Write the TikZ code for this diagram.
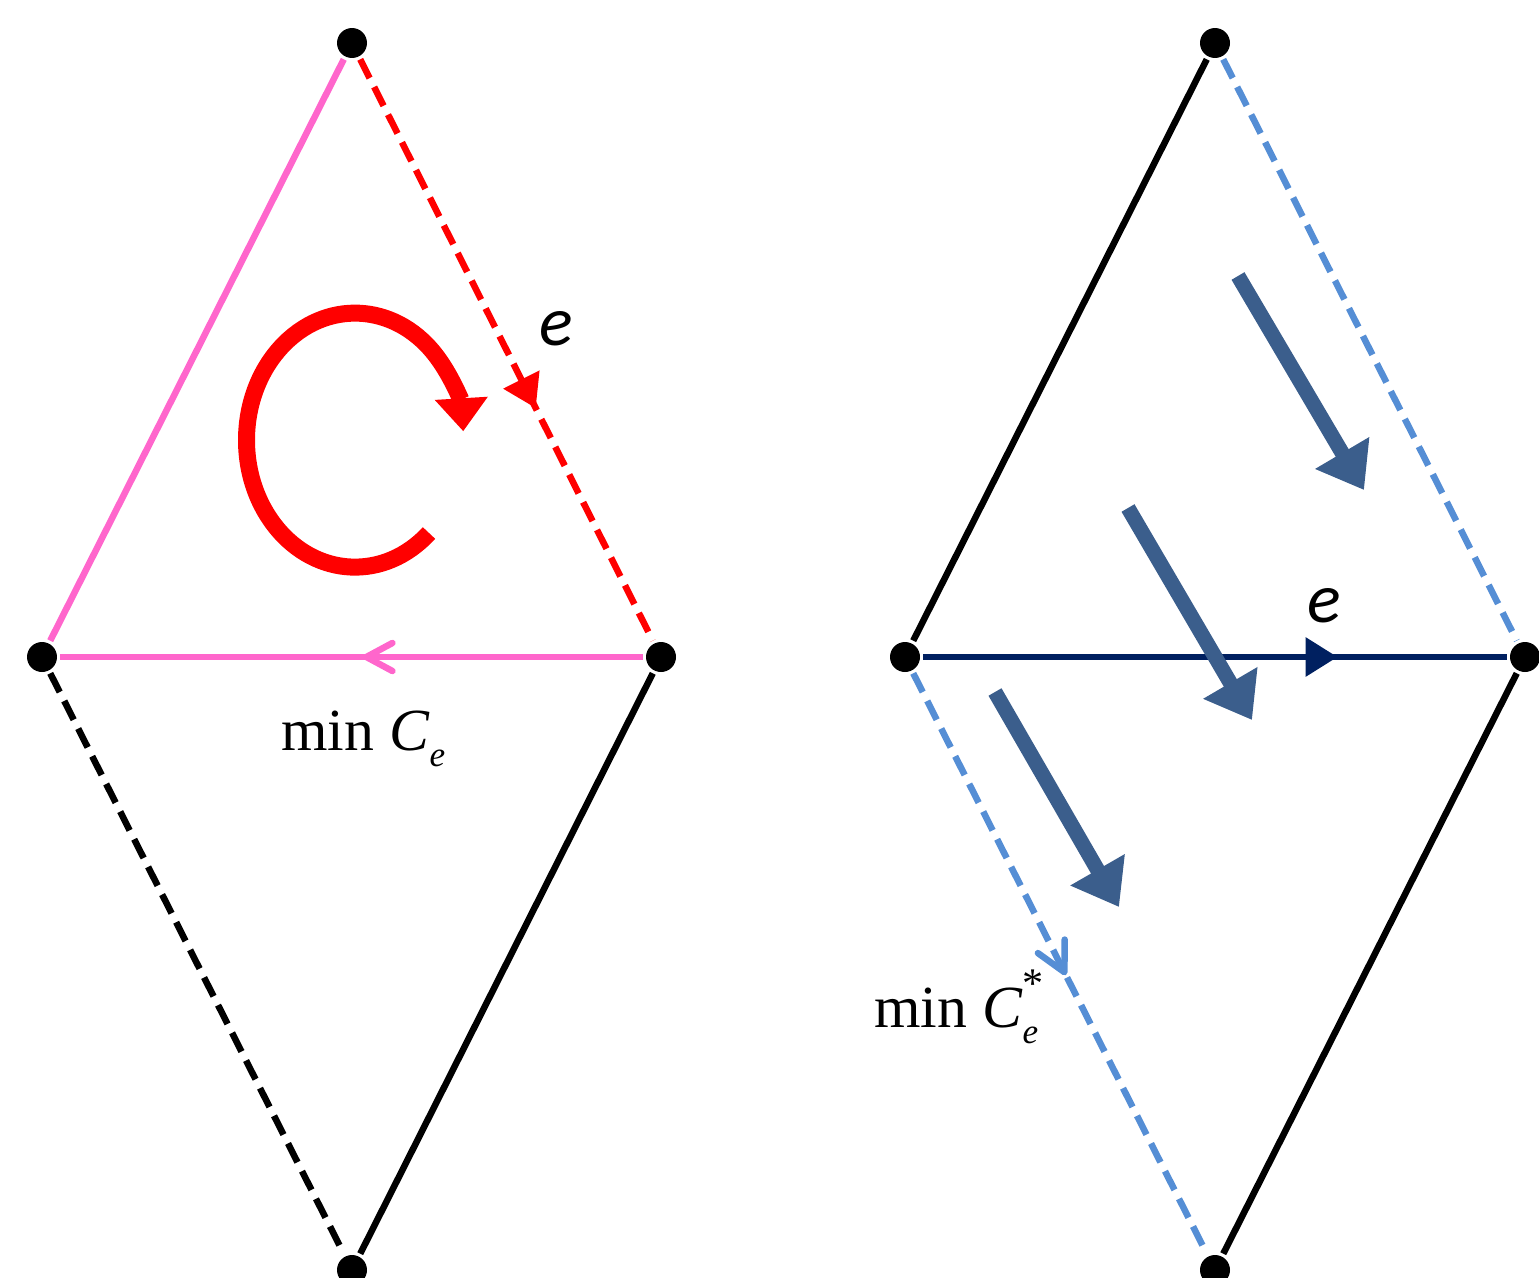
\documentclass[tikz,border=0pt]{standalone}
\usepackage{fontspec}
\setmainfont{Liberation Serif}
\newfontfamily\calibrifont{Carlito}
\usetikzlibrary{arrows.meta,decorations.markings}
\definecolor{rosa}{RGB}{255,102,204}
\definecolor{rojo}{RGB}{255,0,0}
\definecolor{marino}{RGB}{0,32,96}
\definecolor{celeste}{RGB}{85,142,213}
\definecolor{flujo}{RGB}{59,94,140}
\newcommand{\subidx}[1]{\raisebox{-0.27em}{\fontsize{20}{20}\selectfont\textit{#1}}}
\newcommand{\supidx}[1]{\raisebox{0.5em}{\fontsize{24}{24}\selectfont #1}}

\begin{document}
\begin{tikzpicture}[x=0.02cm,y=-0.02cm,line width=0.13cm]
  \tikzstyle{vertex}=[circle,fill=black,inner sep=0pt,minimum size=0.6cm]
  \tikzstyle{dashed_edge}=[dash pattern=on 0.42cm off 0.2cm]
  \tikzstyle{flow}=[draw=flujo,line width=0.3cm,
                    -{Triangle[length=0.86cm,width=1.2cm]}]
  \tikzstyle{edge_text}=[font=\calibrifont\itshape\fontsize{40}{44}\selectfont,
                         inner sep=0pt]
  \tikzstyle{min_text}=[font=\fontsize{34}{38}\selectfont,
                        anchor=base west,inner sep=0pt]
  \useasboundingbox (0,0) rectangle (1539,1278);
  %Nodos rombo izquierdo
  \node[vertex] (lt) at (352,43) {};
  \node[vertex] (ll) at (42,657) {};
  \node[vertex] (lr) at (661,657) {};
  \node[vertex] (lb) at (352,1270) {};
  %Nodos rombo derecho
  \node[vertex] (rt) at (1215,43) {};
  \node[vertex] (rl) at (905,657) {};
  \node[vertex] (rr) at (1525,657) {};
  \node[vertex] (rb) at (1215,1270) {};
  %Aristas izquierdas
  \draw[rosa] (ll) -- (lt);
  \draw[rojo,dashed_edge,postaction={decorate},
        decoration={markings,mark=at position 0.6 with
        {\arrow{Triangle[length=0.64cm,width=0.78cm]}}}] (lt) -- (lr);
  \draw[rosa,postaction={decorate},
        decoration={markings,mark=at position 0.48 with
        {\arrow{Straight Barb[length=0.52cm,width=0.56cm,round]}}}] (lr) -- (ll);
  \draw[dashed_edge] (ll) -- (lb);
  \draw (lr) -- (lb);
  %Aristas derechas
  \draw (rl) -- (rt);
  \draw[celeste,dashed_edge] (rt) -- (rr);
  \draw[marino,postaction={decorate},
        decoration={markings,mark=at position 0.71 with
        {\arrow{Triangle[length=0.64cm,width=0.76cm]}}}] (rl) -- (rr);
  \draw[celeste,dashed_edge,postaction={decorate},
        decoration={markings,mark=at position 0.52 with
        {\arrow{Straight Barb[length=0.58cm,width=0.6cm,round]}}}] (rl) -- (rb);
  \draw (rr) -- (rb);
  %Giro
  \coordinate (curl) at (429,533);
  \draw[rojo,line width=0.34cm,-{Triangle[length=0.66cm,width=1.02cm]}]
    (curl) arc[start angle=47,end angle=356,x radius=108.5,y radius=127];
  %Flechas de flujo
  \coordinate (f1s) at (1238,276);
  \coordinate (f1e) at (1364,490);
  \coordinate (f2s) at (1128,508);
  \coordinate (f2e) at (1252,720);
  \coordinate (f3s) at (995,692);
  \coordinate (f3e) at (1119,907);
  \draw[flow] (f1s) -- (f1e);
  \draw[flow] (f2s) -- (f2e);
  \draw[flow] (f3s) -- (f3e);
  %Etiquetas
  \node[edge_text] (el) at (556,329) {e};
  \node[edge_text] (er) at (1324,606) {e};
  \node[min_text] (ml) at (278,750) {min \textit{C}\subidx{e}};
  \node[min_text] (mr) at (871,1027)
    {min \textit{C}\rlap{\subidx{e}}\supidx{*}};
\end{tikzpicture}
\end{document}
